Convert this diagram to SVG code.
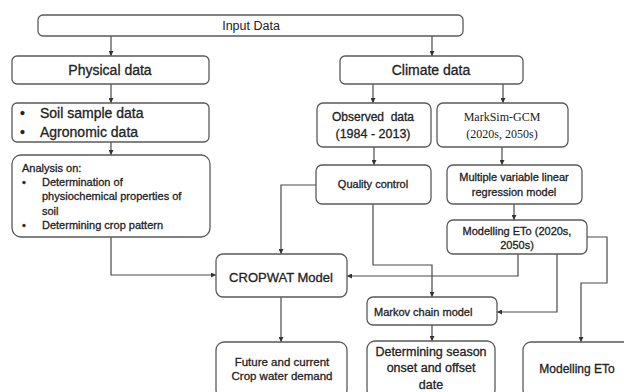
<svg xmlns="http://www.w3.org/2000/svg" width="624" height="392" viewBox="0 0 624 392">
<defs>
<style>
.box{fill:#fff;stroke:#5a5a5a;stroke-width:1.3}
.t{font-family:"Liberation Sans",Arial,sans-serif;fill:#222;text-anchor:middle;dominant-baseline:central;stroke:#222;stroke-width:0.3}
.n{stroke:none}
.l{text-anchor:start}
.s{font-family:"Liberation Serif","Times New Roman",serif}
.c{fill:none;stroke:#4a4a4a;stroke-width:1.2}
</style>
<marker id="a" viewBox="0 0 10 10" refX="10" refY="5" markerWidth="5" markerHeight="5" markerUnits="userSpaceOnUse" orient="auto"><path d="M0,0L10,5L0,10z" fill="#333"/></marker>
</defs>
<rect width="624" height="392" fill="#fff"/>
<g id="connectors">
<path class="c" marker-end="url(#a)" d="M111,36V56"/>
<path class="c" marker-end="url(#a)" d="M432,36V56"/>
<path class="c" marker-end="url(#a)" d="M111,84V103"/>
<path class="c" marker-end="url(#a)" d="M111,142V155"/>
<path class="c" marker-end="url(#a)" d="M373,84V103"/>
<path class="c" marker-end="url(#a)" d="M503,84V103"/>
<path class="c" marker-end="url(#a)" d="M374,147V165"/>
<path class="c" marker-end="url(#a)" d="M502,147V165"/>
<path class="c" marker-end="url(#a)" d="M514,204V220"/>
<path class="c" marker-end="url(#a)" d="M111,237V275H216"/>
<path class="c" marker-end="url(#a)" d="M316,185H281V254"/>
<path class="c" marker-end="url(#a)" d="M373,204V265H432V297"/>
<path class="c" marker-end="url(#a)" d="M518,254V276H347"/>
<path class="c" marker-end="url(#a)" d="M557,254V312H497"/>
<path class="c" marker-end="url(#a)" d="M587,237H607V283H581V342"/>
<path class="c" marker-end="url(#a)" d="M281,297V342"/>
<path class="c" marker-end="url(#a)" d="M432,325V341"/>
</g>
<g id="input"><rect class="box" x="38" y="15" width="425" height="21" rx="5"/><text class="t n" x="251" y="26" font-size="12.5">Input Data</text></g>
<g id="physical"><rect class="box" x="12" y="56" width="197" height="28" rx="5"/><text class="t" x="110" y="70" font-size="14">Physical data</text></g>
<g id="climate"><rect class="box" x="340" y="56" width="183" height="28" rx="5"/><text class="t" x="431" y="70" font-size="14">Climate data</text></g>
<g id="soil"><rect class="box" x="12" y="103" width="197" height="39" rx="5"/>
<text class="t l" x="20" y="113" font-size="14">•</text><text class="t l" x="40" y="113" font-size="14">Soil sample data</text>
<text class="t l" x="20" y="132" font-size="14">•</text><text class="t l" x="40" y="132" font-size="14">Agronomic data</text></g>
<g id="analysis"><rect class="box" x="12" y="155" width="198" height="82" rx="9"/>
<text class="t l" x="22" y="168" font-size="11">Analysis on:</text>
<text class="t l" x="22" y="182" font-size="11">•</text><text class="t l" x="42" y="182" font-size="11">Determination of</text>
<text class="t l" x="42" y="196" font-size="11">physiochemical properties of</text>
<text class="t l" x="42" y="211" font-size="11">soil</text>
<text class="t l" x="22" y="225" font-size="11">•</text><text class="t l" x="42" y="225" font-size="11">Determining crop pattern</text></g>
<g id="observed"><rect class="box" x="317" y="103" width="114" height="44" rx="6"/>
<text class="t" x="373" y="117" font-size="12" xml:space="preserve">Observed  data</text>
<text class="t" x="373" y="134" font-size="12.5">(1984 - 2013)</text></g>
<g id="marksim"><rect class="box" x="437" y="103" width="131" height="44" rx="6"/>
<text class="t s n" x="502" y="117" font-size="12">MarkSim-GCM</text>
<text class="t s n" x="502" y="134" font-size="12">(2020s, 2050s)</text></g>
<g id="quality"><rect class="box" x="316" y="165" width="115" height="39" rx="6"/><text class="t" x="373" y="184" font-size="11">Quality control</text></g>
<g id="mvlr"><rect class="box" x="447" y="165" width="135" height="39" rx="6"/>
<text class="t" x="514" y="177" font-size="11">Multiple variable linear</text>
<text class="t" x="514" y="192" font-size="11">regression model</text></g>
<g id="eto2050"><rect class="box" x="447" y="220" width="140" height="34" rx="6"/>
<text class="t" x="517" y="231" font-size="11">Modelling ETo (2020s,</text>
<text class="t" x="517" y="245" font-size="11">2050s)</text></g>
<g id="cropwat"><rect class="box" x="216" y="254" width="131" height="43" rx="7"/><text class="t" x="281" y="277" font-size="13">CROPWAT Model</text></g>
<g id="markov"><rect class="box" x="367" y="297" width="130" height="28" rx="6"/><text class="t l" x="374" y="312" font-size="11">Markov chain model</text></g>
<g id="future"><rect class="box" x="216" y="342" width="131" height="56" rx="8"/>
<text class="t" x="282" y="362" font-size="11.5">Future and current</text>
<text class="t" x="282" y="376" font-size="11.5">Crop water demand</text></g>
<g id="season"><rect class="box" x="367" y="341" width="128" height="57" rx="8"/>
<text class="t" x="431" y="352" font-size="12.5">Determining season</text>
<text class="t" x="431" y="368" font-size="12.5">onset and offset</text>
<text class="t" x="431" y="385" font-size="12.5">date</text></g>
<g id="eto"><rect class="box" x="523" y="342" width="110" height="56" rx="8"/><text class="t" x="577" y="369" font-size="12">Modelling ETo</text></g>
</svg>
